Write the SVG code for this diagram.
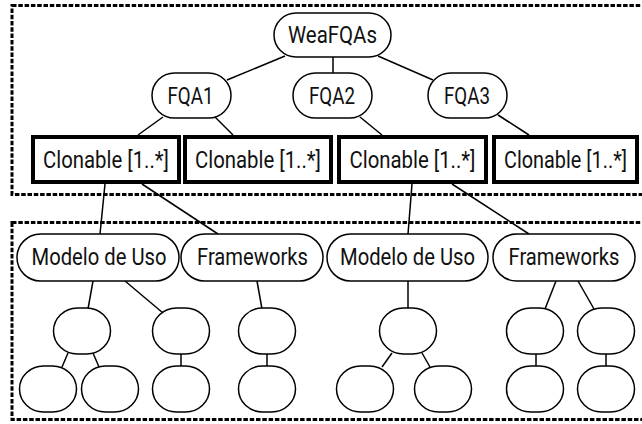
<svg xmlns="http://www.w3.org/2000/svg" width="642" height="424" viewBox="0 0 642 424">
<style>
.grp{fill:none;stroke:#000;stroke-width:3;stroke-dasharray:4.5 1.8}
.rn{fill:#fff;stroke:#000;stroke-width:1.5}
.cl{fill:#fff;stroke:#000;stroke-width:4}
.lbl{font-family:Roboto,"Liberation Sans",sans-serif;font-size:23px;fill:#111;text-anchor:middle;dominant-baseline:central}
#connectors line{stroke:#000;stroke-width:1.5}
</style>
<rect width="642" height="424" fill="#fff"/>
<rect class="grp" x="12" y="5.5" width="640" height="189"/>
<rect class="grp" x="12" y="222.5" width="640" height="197"/>
<g id="connectors">
<line x1="285" y1="56" x2="227" y2="80"/>
<line x1="333" y1="57" x2="333" y2="73"/>
<line x1="378" y1="56" x2="433" y2="80"/>
<line x1="163" y1="117" x2="138" y2="135"/>
<line x1="215" y1="117" x2="233" y2="135"/>
<line x1="360" y1="117" x2="382" y2="135"/>
<line x1="498" y1="115" x2="529" y2="135"/>
<line x1="105" y1="184" x2="100" y2="234"/>
<line x1="142" y1="184" x2="218" y2="234"/>
<line x1="412" y1="184" x2="408" y2="234"/>
<line x1="452" y1="184" x2="529" y2="234"/>
<line x1="93" y1="281" x2="88" y2="309"/>
<line x1="125" y1="281" x2="163" y2="313"/>
<line x1="257" y1="281" x2="262" y2="309"/>
<line x1="68" y1="353" x2="62" y2="367"/>
<line x1="93" y1="353" x2="99" y2="367"/>
<line x1="181" y1="354" x2="181" y2="366"/>
<line x1="267" y1="354" x2="267" y2="366"/>
<line x1="408" y1="281" x2="408" y2="308"/>
<line x1="392" y1="353" x2="382" y2="367"/>
<line x1="422" y1="353" x2="430" y2="367"/>
<line x1="556" y1="281" x2="545" y2="309"/>
<line x1="578" y1="281" x2="594" y2="309"/>
<line x1="536" y1="354" x2="536" y2="366"/>
<line x1="606" y1="354" x2="606" y2="366"/>
</g>
<g id="weafqas"><rect class="rn" x="274" y="13" width="117" height="44" rx="22"/><text class="lbl" x="332.5" y="35" textLength="89" lengthAdjust="spacingAndGlyphs">WeaFQAs</text></g>
<g id="fqa1"><rect class="rn" x="152" y="73" width="79" height="45" rx="22.5"/><text class="lbl" x="190.5" y="96" textLength="46" lengthAdjust="spacingAndGlyphs">FQA1</text></g>
<g id="fqa2"><rect class="rn" x="293" y="73" width="79" height="45" rx="22.5"/><text class="lbl" x="332" y="96" textLength="46" lengthAdjust="spacingAndGlyphs">FQA2</text></g>
<g id="fqa3"><rect class="rn" x="428" y="73" width="79" height="45" rx="22.5"/><text class="lbl" x="467" y="96" textLength="46" lengthAdjust="spacingAndGlyphs">FQA3</text></g>
<g id="clonable1"><rect class="cl" x="33" y="137" width="146" height="45"/><text class="lbl" x="106" y="160" textLength="126" lengthAdjust="spacingAndGlyphs">Clonable [1..*]</text></g>
<g id="clonable2"><rect class="cl" x="185" y="137" width="146" height="45"/><text class="lbl" x="258" y="160" textLength="126" lengthAdjust="spacingAndGlyphs">Clonable [1..*]</text></g>
<g id="clonable3"><rect class="cl" x="339" y="137" width="147" height="45"/><text class="lbl" x="412.5" y="160" textLength="126" lengthAdjust="spacingAndGlyphs">Clonable [1..*]</text></g>
<g id="clonable4"><rect class="cl" x="494" y="137" width="143" height="45"/><text class="lbl" x="565.5" y="160" textLength="123" lengthAdjust="spacingAndGlyphs">Clonable [1..*]</text></g>
<g id="modelo1"><rect class="rn" x="17" y="234" width="162" height="47" rx="23.5"/><text class="lbl" x="99" y="257.5" textLength="135" lengthAdjust="spacingAndGlyphs">Modelo de Uso</text></g>
<g id="frameworks1"><rect class="rn" x="181" y="234" width="142" height="47" rx="23.5"/><text class="lbl" x="252.5" y="257.5" textLength="111" lengthAdjust="spacingAndGlyphs">Frameworks</text></g>
<g id="modelo2"><rect class="rn" x="327" y="234" width="161" height="47" rx="23.5"/><text class="lbl" x="407.5" y="257.5" textLength="135" lengthAdjust="spacingAndGlyphs">Modelo de Uso</text></g>
<g id="frameworks2"><rect class="rn" x="493" y="234" width="142" height="47" rx="23.5"/><text class="lbl" x="564" y="257.5" textLength="111" lengthAdjust="spacingAndGlyphs">Frameworks</text></g>
<g id="n1"><rect class="rn" x="53.5" y="308" width="57" height="46" rx="24" ry="23"/></g>
<g id="n2"><rect class="rn" x="152.5" y="308" width="57" height="46" rx="24" ry="23"/></g>
<g id="n3"><rect class="rn" x="238.5" y="308" width="57" height="46" rx="24" ry="23"/></g>
<g id="n4"><rect class="rn" x="19.5" y="366" width="57" height="46" rx="24" ry="23"/></g>
<g id="n5"><rect class="rn" x="81.5" y="366" width="57" height="46" rx="24" ry="23"/></g>
<g id="n6"><rect class="rn" x="152.5" y="366" width="57" height="46" rx="24" ry="23"/></g>
<g id="n7"><rect class="rn" x="238.5" y="366" width="57" height="46" rx="24" ry="23"/></g>
<g id="n8"><rect class="rn" x="379.5" y="308" width="57" height="46" rx="24" ry="23"/></g>
<g id="n9"><rect class="rn" x="506.5" y="308" width="57" height="46" rx="24" ry="23"/></g>
<g id="n10"><rect class="rn" x="577.5" y="308" width="57" height="46" rx="24" ry="23"/></g>
<g id="n11"><rect class="rn" x="336.5" y="366" width="57" height="46" rx="24" ry="23"/></g>
<g id="n12"><rect class="rn" x="414.5" y="366" width="57" height="46" rx="24" ry="23"/></g>
<g id="n13"><rect class="rn" x="506.5" y="366" width="57" height="46" rx="24" ry="23"/></g>
<g id="n14"><rect class="rn" x="577.5" y="366" width="57" height="46" rx="24" ry="23"/></g>
</svg>
